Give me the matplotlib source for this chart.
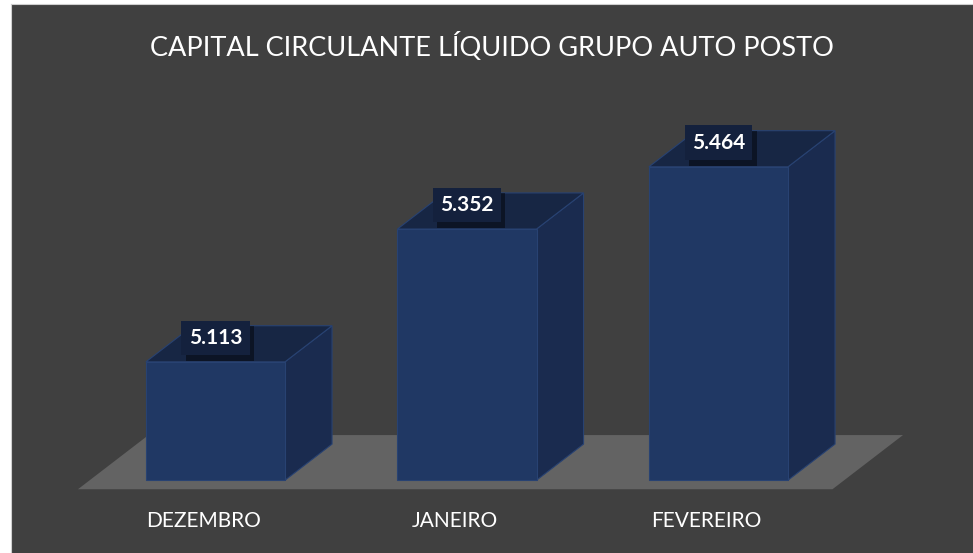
import numpy as np
import matplotlib
matplotlib.use('Agg')
import matplotlib.pyplot as plt
from matplotlib.patches import Polygon, Rectangle
import matplotlib.patheffects as pe

# Data
categories = ['DEZEMBRO', 'JANEIRO', 'FEVEREIRO']
values = [5.113, 5.352, 5.464]
value_labels = ['5.113', '5.352', '5.464']
title = 'CAPITAL CIRCULANTE LÍQUIDO GRUPO AUTO POSTO'

# Style
bg = '#404040'
floor_color = '#636363'
front_color = '#203864'
side_color = '#1a2b4f'
top_color = '#172644'
edge_color = '#284272'
label_box = '#14213d'
base = 4.9          # axis minimum (floor level)
bar_w = 0.553
ddx, ddy = 0.187, 0.065   # depth offset of the 3D bars, data units

plt.rcParams['font.family'] = ['Lato', 'DejaVu Sans']

fig = plt.figure(figsize=(9.73, 5.53), dpi=100)
fig.patch.set_facecolor('white')
ax = fig.add_axes([11 / 973, 0, 962 / 973, 549 / 553])
ax.set_facecolor(bg)
ax.set_xlim(-0.813, 3.012)
ax.set_ylim(4.769, 5.757)
ax.set_xticks([])
ax.set_yticks([])
for side in ['bottom', 'right']:
    ax.spines[side].set_visible(False)
for side in ['top', 'left']:
    ax.spines[side].set_color('#cfcfcf')
    ax.spines[side].set_linewidth(0.8)

n = len(categories)

# Floor
f0, f1 = -0.5, n - 0.5
floor = Polygon([(f0 - 0.25 * ddx, base - 0.25 * ddy),
                 (f1 - 0.25 * ddx, base - 0.25 * ddy),
                 (f1 + 1.25 * ddx, base + 1.25 * ddy),
                 (f0 + 1.25 * ddx, base + 1.25 * ddy)],
                closed=True, fc=floor_color, ec='none', zorder=1)
ax.add_patch(floor)

# 3D bars
for i, v in enumerate(values):
    x0, x1 = i - bar_w / 2, i + bar_w / 2
    side_poly = Polygon([(x1, base), (x1 + ddx, base + ddy), (x1 + ddx, v + ddy), (x1, v)],
                        closed=True, fc=side_color, ec=edge_color, lw=0.8, zorder=2)
    top_poly = Polygon([(x0, v), (x1, v), (x1 + ddx, v + ddy), (x0 + ddx, v + ddy)],
                       closed=True, fc=top_color, ec=edge_color, lw=0.8, zorder=2)
    front = Rectangle((x0, base), bar_w, v - base, fc=front_color, ec=edge_color, lw=0.8, zorder=3)
    ax.add_patch(side_poly)
    ax.add_patch(top_poly)
    ax.add_patch(front)

    # value label in a dark box with a soft shadow
    t = ax.annotate(value_labels[i], xy=(i, v), xytext=(0, 13), textcoords='offset points',
                    ha='center', va='baseline', fontsize=15, fontweight='bold', color='white',
                    bbox=dict(boxstyle='square,pad=0.35', fc=label_box, ec='none'),
                    zorder=5)
    t.get_bbox_patch().set_path_effects([
        pe.SimplePatchShadow(offset=(3, -4), shadow_rgbFace='black', alpha=0.45),
        pe.Normal()])

    # category label below the floor's front edge
    ax.annotate(categories[i], xy=(i - 0.25 * ddx, base - 0.25 * ddy), xytext=(0, -27.4),
                textcoords='offset points', ha='center', va='baseline',
                fontsize=15, color='white', zorder=5)

ax.text(0.5, 1 - 52 / 549, title, transform=ax.transAxes, ha='center', va='baseline',
        fontsize=19.5, color='white')

fig.savefig('out.png', dpi=100, facecolor=fig.get_facecolor())
